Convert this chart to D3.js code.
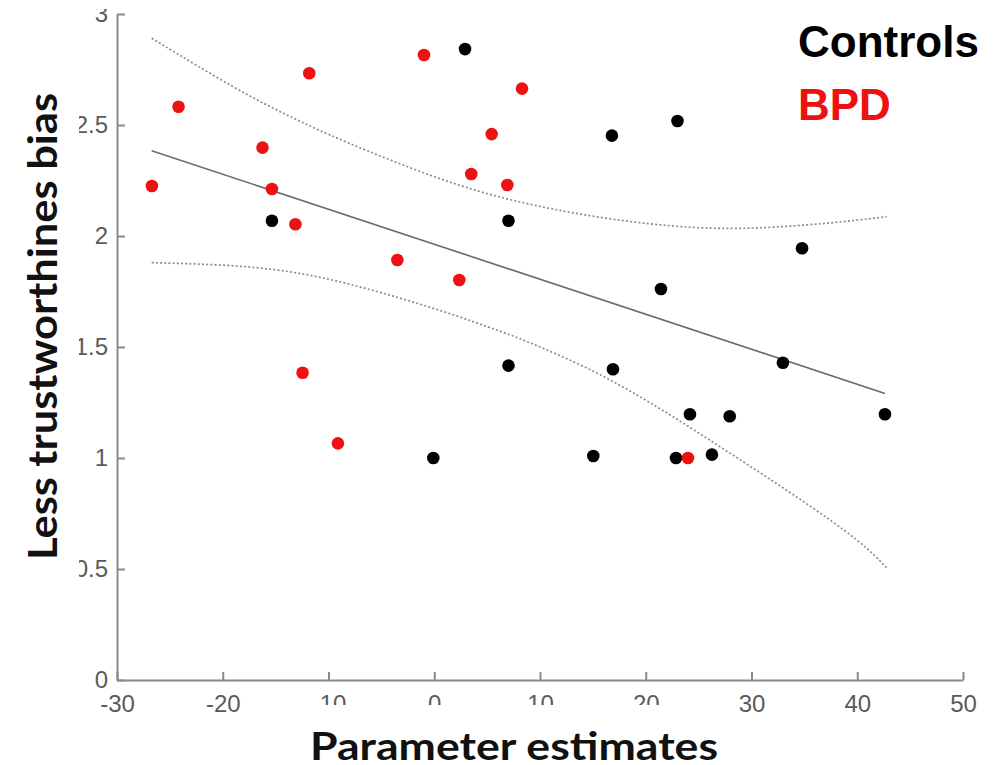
<!DOCTYPE html>
<html>
<head>
<meta charset="utf-8">
<script src="https://cdn.jsdelivr.net/npm/d3@7"></script>
<style>
  html, body { margin: 0; padding: 0; background: #fff; }
  svg { display: block; }
</style>
</head>
<body>
<svg id="chart" width="1000" height="765"></svg>
<script>
// Parameter estimate (x) and less-trustworthiness bias (y) per participant
const controlsX = [2.91, 16.80, 23.0, 7.02, 34.78, 21.44, 32.97, 7.02, 16.9, 24.18, 27.94, 42.62, 15.04, 22.86, 26.26, -0.09, -15.35];
const controlsY = [2.842, 2.452, 2.518, 2.069, 1.945, 1.761, 1.429, 1.416, 1.400, 1.197, 1.188, 1.197, 1.009, 1.0, 1.015, 1.0, 2.069];

const bpdX = [-26.70, -24.18, -16.24, -15.35, -13.13, -11.82, -0.97, -3.49, 2.37, 3.50, 5.43, 8.30, 6.91, -12.45, -9.11, 23.99];
const bpdY = [2.225, 2.582, 2.398, 2.212, 2.053, 2.733, 2.815, 1.892, 1.802, 2.279, 2.459, 2.664, 2.230, 1.384, 1.066, 1.0];

// Regression line end points
const fitX = [-26.72, 42.62];
const fitY = [2.384, 1.291];

// Confidence band, upper and lower curves
const upperX = [-26.72, -18.37, -13.64, -8.91, 0.54, 6.88, 15.36, 24.82, 31.14, 37.42, 42.78];
const upperY = [2.891, 2.650, 2.537, 2.432, 2.252, 2.162, 2.080, 2.030, 2.035, 2.057, 2.087];
const lowerX = [-26.72, -18.37, -12.06, -5.76, 0.54, 6.85, 10.0, 15.38, 21.68, 27.99, 34.30, 40.60, 42.81];
const lowerY = [1.880, 1.869, 1.832, 1.757, 1.667, 1.562, 1.501, 1.389, 1.216, 1.021, 0.826, 0.616, 0.503];

const xTicks = [-30, -20, -10, 0, 10, 20, 30, 40, 50];
const yTicks = [0, 0.5, 1, 1.5, 2, 2.5, 3];

const legendLabels = ["Controls", "BPD"];
const groupColors = ["#000000", "#ee1111"];

const svg = d3.select("#chart");

const x = d3.scaleLinear().domain([-30, 50]).range([117, 963]);
const y = d3.scaleLinear().domain([0, 3]).range([680, 14]);

const tickFont = "'Liberation Sans', Arial, Helvetica, sans-serif";
const titleFont = "Lato, 'Open Sans', 'Noto Sans', sans-serif";

// Axes (ticks point inward)
const xAxis = d3.axisBottom(x).tickValues(xTicks).tickFormat(d => String(d))
  .tickSize(-8).tickSizeOuter(0).tickPadding(15);
const yAxis = d3.axisLeft(y).tickValues(yTicks).tickFormat(d => String(d))
  .tickSize(-8).tickSizeOuter(0).tickPadding(9);

function styleAxis(g) {
  g.select(".domain").attr("stroke", "#8a8a8a").attr("stroke-width", 2);
  g.selectAll(".tick line").attr("stroke", "#8a8a8a").attr("stroke-width", 2);
  g.selectAll(".tick text")
    .attr("fill", "#5a5a5a")
    .style("font-family", tickFont)
    .style("font-size", "24px");
}

svg.append("g").attr("transform", `translate(0,${y(0)})`).call(xAxis).call(styleAxis);
svg.append("g").attr("transform", `translate(${x(-30)},0)`).call(yAxis).call(styleAxis);

// Confidence band curves (dotted)
const bandLine = d3.line().x(d => x(d[0])).y(d => y(d[1])).curve(d3.curveBasis);
[[upperX, upperY], [lowerX, lowerY]].forEach(([xs, ys]) => {
  svg.append("path")
    .datum(xs.map((v, i) => [v, ys[i]]))
    .attr("d", bandLine)
    .attr("fill", "none")
    .attr("stroke", "#8c8c8c")
    .attr("stroke-width", 1.7)
    .attr("stroke-dasharray", "2,2.2");
});

// Regression line
svg.append("path")
  .datum(fitX.map((v, i) => [v, fitY[i]]))
  .attr("d", d3.line().x(d => x(d[0])).y(d => y(d[1])))
  .attr("fill", "none")
  .attr("stroke", "#6a6a6a")
  .attr("stroke-width", 1.6);

// Points
const groups = [[controlsX, controlsY], [bpdX, bpdY]];
groups.forEach(([xs, ys], gi) => {
  svg.append("g").selectAll("circle")
    .data(xs.map((v, i) => [v, ys[i]]))
    .join("circle")
    .attr("cx", d => x(d[0]))
    .attr("cy", d => y(d[1]))
    .attr("r", 6.3)
    .attr("fill", groupColors[gi]);
});

// Legend text
svg.append("g").selectAll("text")
  .data(legendLabels)
  .join("text")
  .attr("x", 798)
  .attr("y", (d, i) => 57 + i * 63)
  .attr("fill", (d, i) => groupColors[i])
  .style("font-family", tickFont)
  .style("font-weight", "bold")
  .style("font-size", "44px")
  .text(d => d);

// Title backgrounds overlap the tick labels slightly
svg.append("rect").attr("x", 0).attr("y", 88).attr("width", 79).attr("height", 500).attr("fill", "#fff");
svg.append("rect").attr("x", 285).attr("y", 705).attr("width", 448).attr("height", 60).attr("fill", "#fff");
svg.append("rect").attr("x", 85).attr("y", 0).attr("width", 30).attr("height", 9).attr("fill", "#fff");

// Axis titles
svg.append("text")
  .attr("x", 310).attr("y", 760)
  .attr("textLength", 408).attr("lengthAdjust", "spacingAndGlyphs")
  .attr("fill", "#111")
  .style("font-family", titleFont)
  .style("font-weight", "bold")
  .style("font-size", "39px")
  .text("Parameter estimates");

svg.append("text")
  .attr("transform", "translate(57,560) rotate(-90)")
  .attr("x", 0).attr("y", 0)
  .attr("textLength", 467).attr("lengthAdjust", "spacingAndGlyphs")
  .attr("fill", "#111")
  .style("font-family", titleFont)
  .style("font-weight", "bold")
  .style("font-size", "40px")
  .text("Less trustworthines bias");
</script>
</body>
</html>
